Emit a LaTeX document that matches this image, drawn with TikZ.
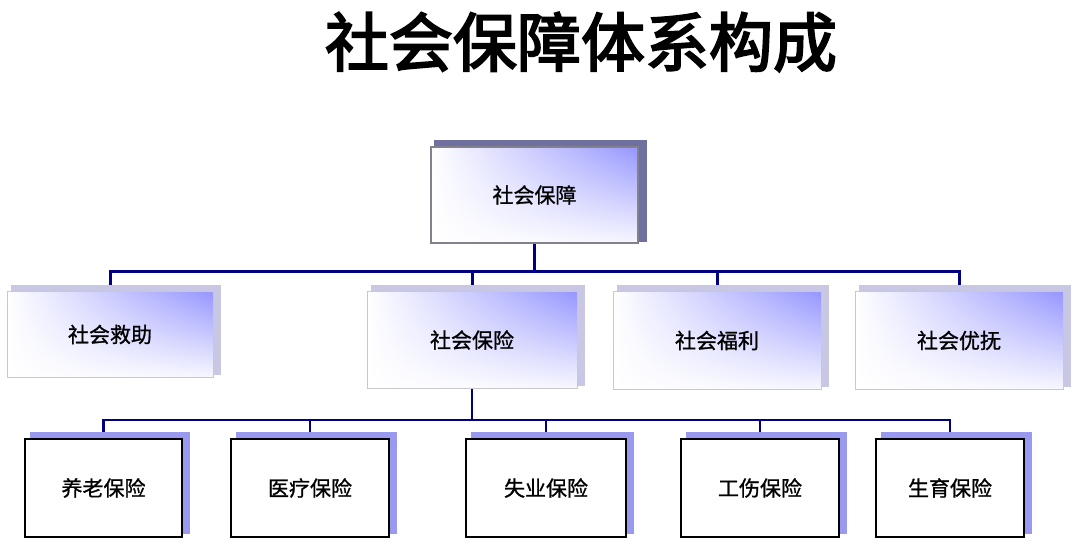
\documentclass[tikz,border=0pt]{standalone}
\usepackage{fontspec}
\usetikzlibrary{shadings}
\newfontfamily\cjk[FakeBold=1]{Noto Sans CJK SC}
\newfontfamily\cjktitle[FakeBold=3]{Noto Sans CJK SC}
\pgfdeclarelayer{bg}
\pgfdeclarelayer{lines}
\pgfdeclarelayer{shadows}
\pgfsetlayers{bg,lines,shadows,main}
\definecolor{navyline}{RGB}{0,0,128}
\definecolor{gblue}{RGB}{150,150,255}
\definecolor{shadowdark}{RGB}{112,112,160}
\definecolor{shadowlight}{RGB}{200,200,228}
\definecolor{shadowblue}{RGB}{153,153,240}
\definecolor{borderlight}{RGB}{200,200,205}
\definecolor{bordermid}{RGB}{130,130,140}
\tikzset{
  titletext/.style={font=\cjktitle\fontsize{64}{70}\selectfont, inner sep=0pt},
  gradbox/.style={shade, upper left=white, lower left=white, lower right=white!92!gblue,
    upper right=gblue, inner sep=0pt, font=\cjk\fontsize{21}{24}\selectfont, text=black},
  topbox/.style={gradbox, draw=bordermid, line width=1.2pt},
  midbox/.style={gradbox, draw=borderlight, line width=1pt},
  leafbox/.style={fill=white, draw=black, line width=1.3pt, inner sep=0pt,
    minimum height=98pt, font=\cjk\fontsize{21}{24}\selectfont},
  conn/.style={draw=navyline, line width=3pt},
  conn2/.style={draw=navyline, line width=2.6pt},
}
\begin{document}
\begin{tikzpicture}[x=1pt,y=-1pt]
\useasboundingbox (0,0) rectangle (1080,556);
\begin{pgfonlayer}{bg}
  \fill[white] (0,0) rectangle (1080,556);
\end{pgfonlayer}

\node[titletext] (title) at (581,42) {社会保障体系构成};

\node[topbox, minimum width=207pt, minimum height=96pt] (root) at (534.5,195) {社会保障};

\node[midbox, minimum width=206pt, minimum height=85pt] (aid) at (110,334.5) {社会救助};
\node[midbox, minimum width=210pt, minimum height=96pt] (ins) at (472,340) {社会保险};
\node[midbox, minimum width=208pt, minimum height=97pt] (wel) at (717,340.5) {社会福利};
\node[midbox, minimum width=208pt, minimum height=97pt] (pref) at (959,340.5) {社会优抚};

\node[leafbox, minimum width=157pt] (old) at (103.5,488) {养老保险};
\node[leafbox, minimum width=158pt] (med) at (310,488) {医疗保险};
\node[leafbox, minimum width=160pt] (unemp) at (546,488) {失业保险};
\node[leafbox, minimum width=158pt] (inj) at (760,488) {工伤保险};
\node[leafbox, minimum width=148pt] (birth) at (950,488) {生育保险};

\begin{pgfonlayer}{shadows}
  \fill[shadowdark] ([xshift=4pt,yshift=6pt]root.north west) rectangle ([xshift=8pt,yshift=2pt]root.south east);
  \foreach \n in {aid,ins,wel,pref}
    \fill[shadowlight] ([xshift=4pt,yshift=6pt]\n.north west) rectangle ([xshift=7pt,yshift=3pt]\n.south east);
  \foreach \n in {old,med,unemp,inj,birth}
    \fill[shadowblue] ([xshift=6pt,yshift=6pt]\n.north west) rectangle ([xshift=7pt,yshift=4pt]\n.south east);
\end{pgfonlayer}

\begin{pgfonlayer}{lines}
  \coordinate (j1) at (534.5,272);
  \coordinate (j2) at (472,420);
  \draw[conn] (root.south) -- (j1);
  \foreach \n in {aid,ins,wel,pref}
    \draw[conn] (\n.north) |- (j1);
  \draw[conn2] (ins.south) -- (j2);
  \foreach \n in {old,med,unemp,inj,birth}
    \draw[conn2] (\n.north) |- (j2);
\end{pgfonlayer}
\end{tikzpicture}
\end{document}
